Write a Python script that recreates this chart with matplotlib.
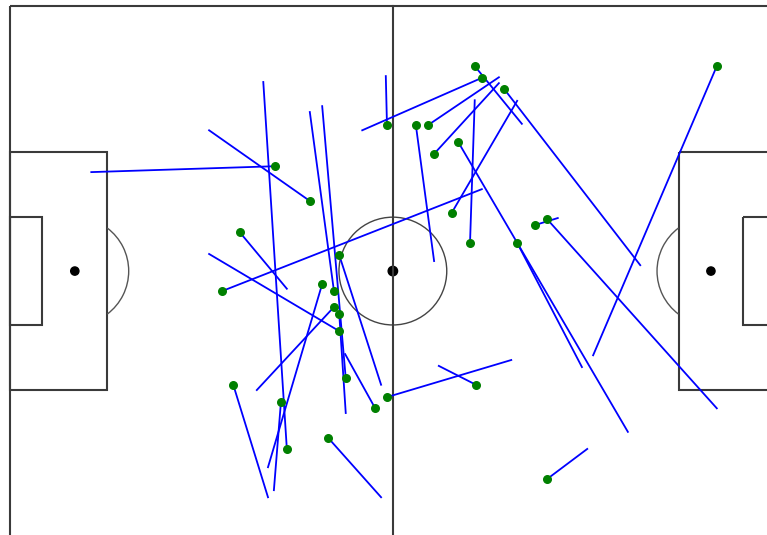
import matplotlib
matplotlib.use("Agg")
import matplotlib.pyplot as plt
from matplotlib.patches import Rectangle, Circle, Arc

# pitch is 130 x 90 (metres), y measured from the top touchline
pitch_length = 130
pitch_width = 90

start_x = [120.0, 83.9, 78.9, 80.1, 71.0, 68.9, 64.0, 72.0, 76.1, 86.1, 78.1,
           75.0, 36.0, 89.1, 91.2, 79.1, 64.0, 91.2, 45.0, 50.9, 47.0, 46.0,
           53.0, 37.9, 54.0, 62.0, 57.0, 55.9, 55.0, 55.0, 55.9, 39.0, 55.9]
start_y = [10.2, 14.1, 10.2, 12.2, 20.2, 20.2, 20.2, 25.1, 23.1, 40.2, 40.2,
           35.1, 48.4, 37.2, 36.2, 64.3, 66.4, 80.3, 27.2, 33.1, 75.2, 67.2,
           47.2, 64.3, 73.3, 68.3, 63.2, 42.3, 48.4, 51.1, 55.2, 38.4, 52.3]
end_x = [99.0, 107.0, 86.9, 59.8, 83.0, 72.0, 63.8, 83.0, 104.9, 97.1, 78.9,
         86.1, 80.1, 93.0, 120.0, 72.8, 85.1, 98.0, 13.8, 33.8, 43.0, 44.8,
         43.8, 43.8, 63.0, 56.9, 53.0, 63.0, 50.9, 41.9, 33.8, 47.0, 57.0]
end_y = [59.3, 44.0, 20.0, 21.1, 12.1, 43.3, 11.9, 13.1, 72.3, 61.3, 16.0,
         16.1, 31.1, 36.0, 68.3, 61.1, 60.1, 75.2, 28.2, 21.1, 12.9, 82.2,
         78.3, 83.4, 83.4, 59.1, 17.0, 64.3, 18.0, 65.2, 42.1, 48.0, 69.1]


def draw_pitch(ax):
    lc = "#3a3a3a"
    lw = 1.5
    ax.add_patch(Rectangle((0, 0), pitch_length, pitch_width, fill=False, ec=lc, lw=lw))
    ax.plot([pitch_length / 2, pitch_length / 2], [0, pitch_width], color=lc, lw=lw)
    # penalty areas and goal areas
    box_w = 40.32
    six_w = 18.32
    for x0, sign in [(0, 1), (pitch_length, -1)]:
        ax.add_patch(Rectangle((x0 if sign > 0 else x0 - 16.5, (pitch_width - box_w) / 2),
                               16.5, box_w, fill=False, ec=lc, lw=lw))
        ax.add_patch(Rectangle((x0 if sign > 0 else x0 - 5.5, (pitch_width - six_w) / 2),
                               5.5, six_w, fill=False, ec=lc, lw=lw))
        spot = x0 + sign * 11
        ax.add_patch(Circle((spot, pitch_width / 2), 0.7, color="black"))
        if sign > 0:
            ax.add_patch(Arc((spot, pitch_width / 2), 18.3, 18.3, theta1=-53, theta2=53,
                             color="#555555", lw=1))
        else:
            ax.add_patch(Arc((spot, pitch_width / 2), 18.3, 18.3, theta1=127, theta2=233,
                             color="#555555", lw=1))
    ax.add_patch(Circle((pitch_length / 2, pitch_width / 2), 9.15, fill=False,
                        ec="#444444", lw=1))
    ax.add_patch(Circle((pitch_length / 2, pitch_width / 2), 0.8, color="black"))


fig = plt.figure(figsize=(7.67, 5.35), dpi=100)
ax = fig.add_axes([0, 0, 1, 1])
draw_pitch(ax)

for i in range(len(start_x)):
    ax.plot([start_x[i], end_x[i]], [start_y[i], end_y[i]], color="blue", lw=1.3, zorder=3)
ax.scatter(start_x, start_y, color="green", s=30, zorder=4)

ax.set_xlim(-1.70, 128.52)
ax.set_ylim(89.81, -1.02)
ax.axis("off")
fig.savefig("out.png", dpi=100)
